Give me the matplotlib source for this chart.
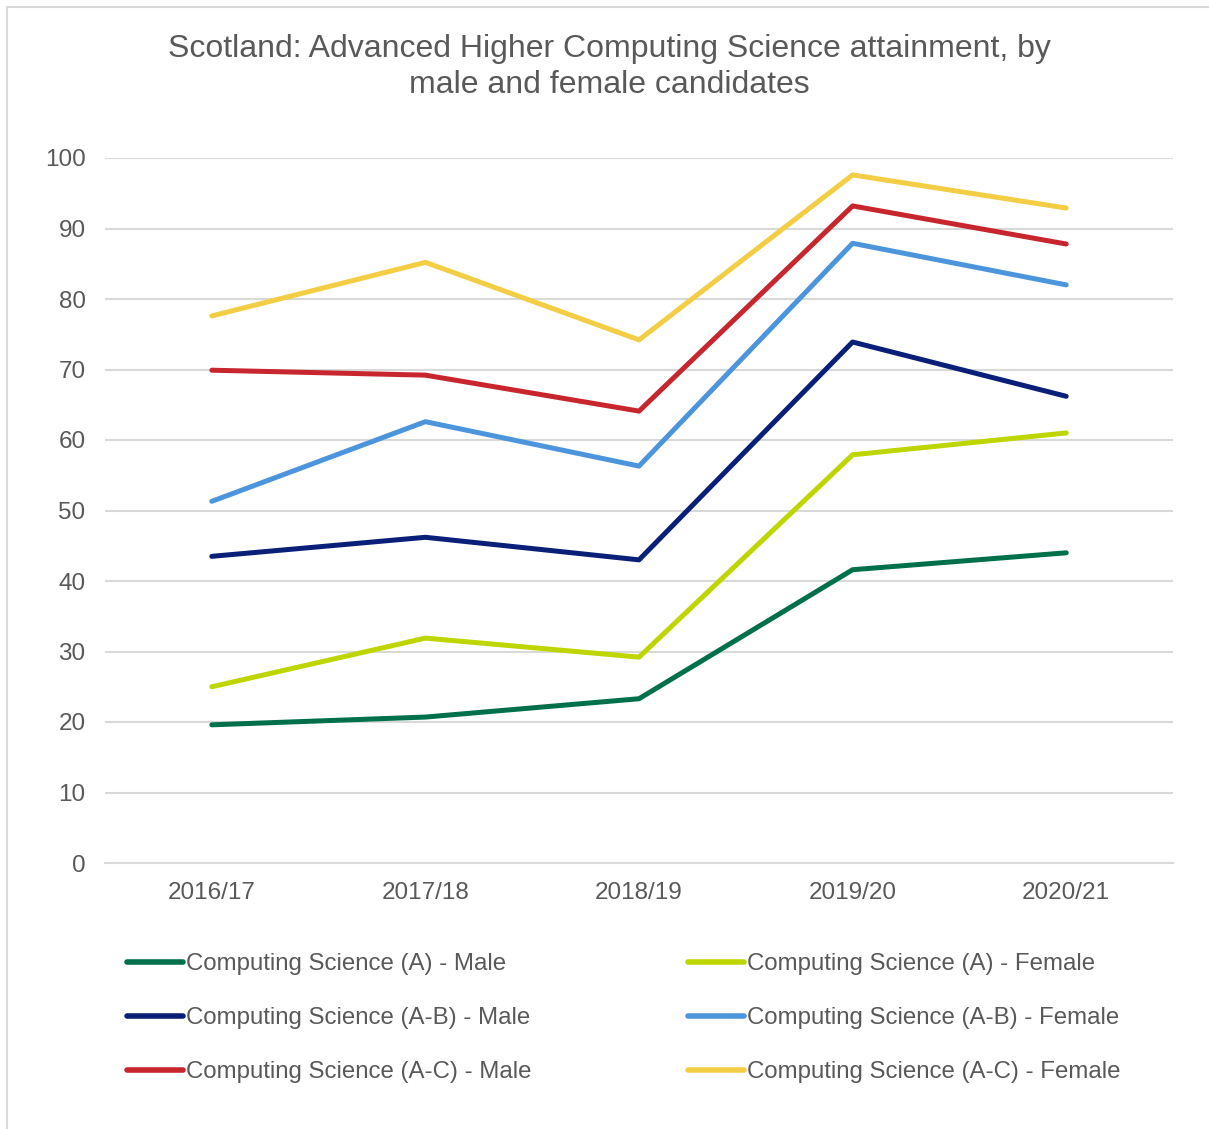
import matplotlib
matplotlib.use("Agg")
import matplotlib.pyplot as plt
from matplotlib.patches import Rectangle

plt.rcParams['font.family'] = ['Liberation Sans', 'DejaVu Sans']

years = ["2016/17", "2017/18", "2018/19", "2019/20", "2020/21"]
a_male = [19.6, 20.7, 23.3, 41.6, 44.0]
a_female = [25.0, 31.9, 29.2, 57.9, 61.0]
ab_male = [43.5, 46.2, 43.0, 73.9, 66.2]
ab_female = [51.3, 62.6, 56.3, 87.9, 82.0]
ac_male = [69.9, 69.2, 64.1, 93.2, 87.8]
ac_female = [77.6, 85.2, 74.2, 97.6, 92.9]

series = [
    ("Computing Science (A) - Male", a_male, "#00704A"),
    ("Computing Science (A-B) - Male", ab_male, "#0A1F78"),
    ("Computing Science (A-C) - Male", ac_male, "#C8262E"),
    ("Computing Science (A) - Female", a_female, "#BED600"),
    ("Computing Science (A-B) - Female", ab_female, "#4C95DD"),
    ("Computing Science (A-C) - Female", ac_female, "#F3CD44"),
]

W, H = 1209, 1129
fig = plt.figure(figsize=(W / 100, H / 100), dpi=100)
fig.patch.set_facecolor("white")
fig.add_artist(Rectangle((7 / W, -0.1), 1.2, (1 - 7 / H) + 0.1, transform=fig.transFigure,
                         fill=False, edgecolor="#D9D9D9", linewidth=1.5))

ax = fig.add_axes([105 / W, 1 - 863 / H, (1173 - 105) / W, (863 - 158) / H])
x = list(range(len(years)))
for label, vals, col in series:
    ax.plot(x, vals, color=col, linewidth=3.6, solid_capstyle="round",
            solid_joinstyle="round", label=label, zorder=3)

ax.set_xlim(-0.5, len(years) - 0.5)
ax.set_ylim(0, 100)
ax.set_yticks(range(0, 101, 10))
ax.set_xticks(x)
ax.set_xticklabels(years)
ax.grid(axis="y", color="#D9D9D9", linewidth=1.5, zorder=0)
for s in ["top", "right", "left"]:
    ax.spines[s].set_visible(False)
ax.spines["bottom"].set_color("#D9D9D9")
ax.spines["bottom"].set_linewidth(1.5)
ax.tick_params(axis="both", length=0, labelsize=17.5, colors="#595959")
ax.tick_params(axis="y", pad=14)
ax.tick_params(axis="x", pad=13.5)

fig.text(609 / W, 1 - 67 / H,
         "Scotland: Advanced Higher Computing Science attainment, by\nmale and female candidates",
         ha="center", va="center", fontsize=23, color="#595959", linespacing=1.22)

leg = fig.legend(loc="upper left", bbox_to_anchor=(127 / W, 1 - 953 / H), ncol=2,
                 frameon=False, fontsize=17.3, handlelength=2.35, handletextpad=0.12,
                 columnspacing=6.5, labelspacing=1.34, borderaxespad=0, borderpad=0)
for t in leg.get_texts():
    t.set_color("#595959")
for l in leg.get_lines():
    l.set_linewidth(4)
    l.set_solid_capstyle("round")

fig.savefig("out.png", dpi=100, facecolor="white")
